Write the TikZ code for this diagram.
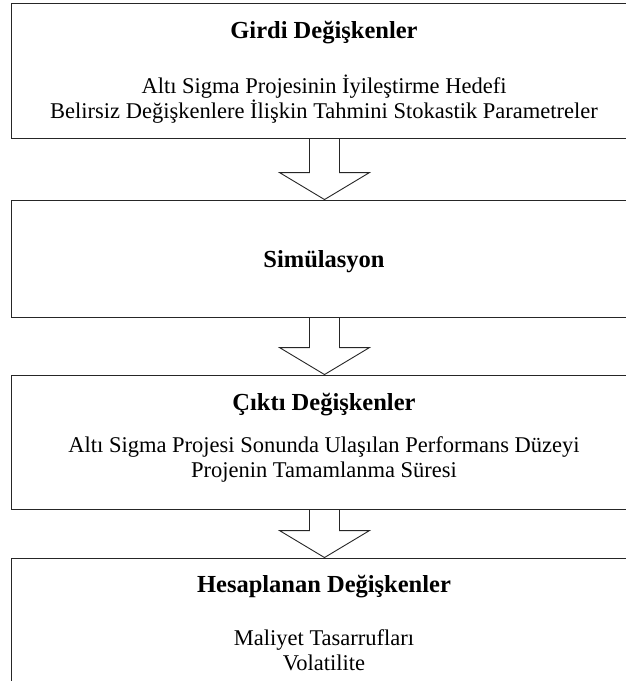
\documentclass[tikz,border=0pt]{standalone}
\usepackage{fontspec}
\setmainfont{Liberation Serif}
\usetikzlibrary{calc}
\begin{document}
\begin{tikzpicture}[x=1pt,y=-1pt, line join=miter,
    kutu/.style={draw=black!85, line width=.9pt, minimum width=627pt, inner sep=0pt},
    baslik/.style={font=\fontsize{24.5}{28}\selectfont\bfseries, anchor=base},
    satir/.style={font=\fontsize{22.5}{26}\selectfont, anchor=base},
    ok/.style={draw=black!85, line width=.9pt}]
  \def\xo{324.5} \def\govde{15} \def\bas{45} \def\boy{27}
  \useasboundingbox (0,0) rectangle (626,681);
  \clip (0,0) rectangle (626,681);
  % kutular
  \node[kutu, minimum height=135pt] (girdi) at (\xo,70.5) {};
  \node[kutu, minimum height=117pt] (sim) at (\xo,258.5) {};
  \node[kutu, minimum height=134pt] (cikti) at (\xo,442) {};
  \node[kutu, minimum height=142pt] (hesap) at (\xo,629) {};
  % yazilar
  \node[baslik] (girdiB) at (324,38) {Girdi Değişkenler};
  \node[satir] (girdi1) at (324,93) {Altı Sigma Projesinin İyileştirme Hedefi};
  \node[satir] (girdi2) at (324,118) {Belirsiz Değişkenlere İlişkin Tahmini Stokastik Parametreler};
  \node[baslik] (simB) at (324,267) {Simülasyon};
  \node[baslik] (ciktiB) at (324,410) {Çıktı Değişkenler};
  \node[satir] (cikti1) at (324,452) {Altı Sigma Projesi Sonunda Ulaşılan Performans Düzeyi};
  \node[satir] (cikti2) at (324,477) {Projenin Tamamlanma Süresi};
  \node[baslik] (hesapB) at (324,592) {Hesaplanan Değişkenler};
  \node[satir] (hesap1) at (324,645) {Maliyet Tasarrufları};
  \node[satir] (hesap2) at (324,670) {Volatilite};
  % oklar
  \foreach \a/\b in {girdi/sim, sim/cikti, cikti/hesap}
    \draw[ok] let \p1=(\a.south), \p2=(\b.north) in
      (\x1-\govde,\y1) -- (\x1-\govde,\y2+\boy) -- (\x1-\bas,\y2+\boy) -- (\x1,\y2)
      -- (\x1+\bas,\y2+\boy) -- (\x1+\govde,\y2+\boy) -- (\x1+\govde,\y1);
\end{tikzpicture}
\end{document}
